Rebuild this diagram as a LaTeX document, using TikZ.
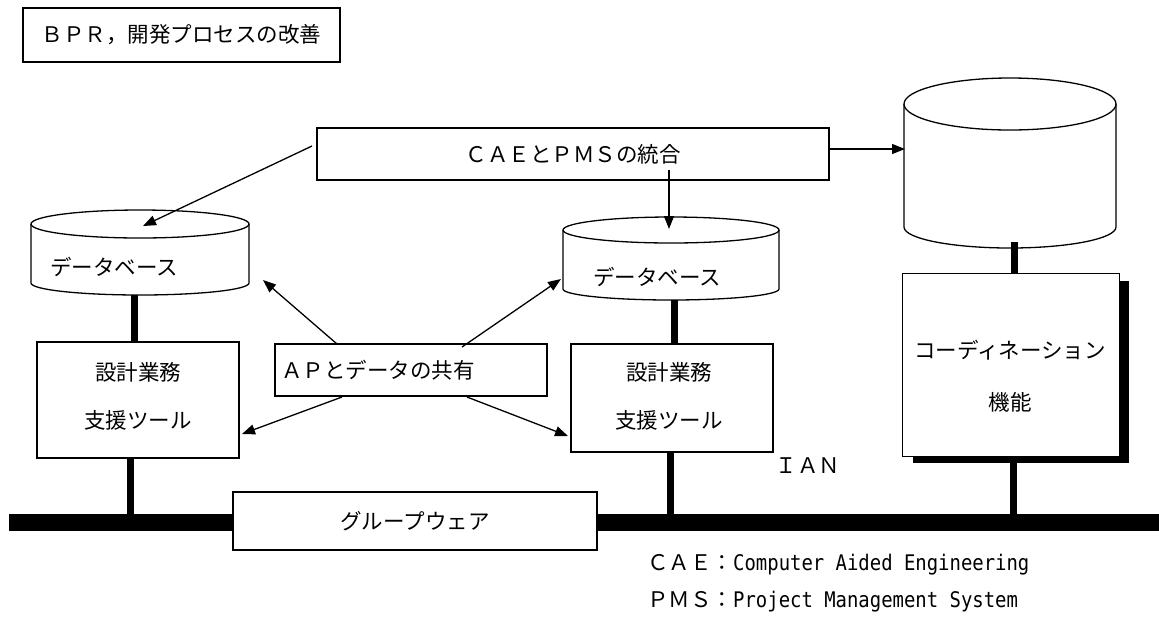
\documentclass[tikz,border=0pt]{standalone}
\usepackage{fontspec}
\setmainfont{Noto Sans CJK JP}
\newfontfamily\jpfont{Noto Sans CJK JP}
\newfontfamily\monofoot{DejaVu Sans Mono}[FakeStretch=0.88]
\usetikzlibrary{arrows.meta}
\begin{document}
\begin{tikzpicture}[x=1pt,y=-1pt,
  every node/.style={font=\jpfont\fontsize{21.5}{26}\selectfont, inner sep=0pt},
  box/.style={draw, line width=1.3pt, fill=white},
  conn/.style={line width=1.3pt, -{Triangle[length=13pt,width=10pt]}},
  lnk/.style={line width=7pt},
  busline/.style={line width=17pt},
  drum/.style={line width=1.3pt, fill=white}
]
\useasboundingbox (0,0) rectangle (1159,625);

% ---- LAN bus
\coordinate (busL) at (9,522.5);
\coordinate (busR) at (1159,522.5);
\draw[busline] (busL) -- (busR);

% ---- title
\node[box, line width=1.6pt, minimum width=317pt, minimum height=54pt] (title) at (181.5,35) {ＢＰＲ，開発プロセスの改善};

% ---- cylinders
\draw[drum] (31,224) -- (31,283) arc[start angle=180, end angle=360, x radius=109pt, y radius=12pt] -- (249,224);
\draw[drum] (140,224) ellipse[x radius=109pt, y radius=14pt];
\node[anchor=west] (db1t) at (50,267) {データベース};

\draw[drum] (563,230) -- (563,289) arc[start angle=180, end angle=360, x radius=108pt, y radius=11pt] -- (779,230);
\draw[drum] (671,230) ellipse[x radius=108pt, y radius=13pt];
\node (db2t) at (657,277) {データベース};

\draw[drum] (904,104) -- (904,227) arc[start angle=180, end angle=360, x radius=106pt, y radius=21pt] -- (1116,104);
\draw[drum] (1010,104) ellipse[x radius=106pt, y radius=26pt];

% ---- boxes
\node[box, minimum width=512pt, minimum height=52pt] (cae) at (573,154) {ＣＡＥとＰＭＳの統合};
\node[box, minimum width=272pt, minimum height=52pt, inner xsep=6pt, text width=260pt, align=left] (ap) at (411,370) {ＡＰとデータの共有};

\node[box, minimum width=202pt, minimum height=116pt] (tool1) at (138,400) {};
\node[align=center] (tool1t) at (138,396) {設計業務\\[22pt]支援ツール};
\node[box, minimum width=202pt, minimum height=108pt] (tool2) at (672,398) {};
\node[align=center] (tool2t) at (669,396) {設計業務\\[22pt]支援ツール};

\node[minimum width=216pt, minimum height=182pt] (coord) at (1011,365) {};
\fill ([xshift=10pt,yshift=-7pt]coord.north west) rectangle ([xshift=10pt,yshift=-7pt]coord.south east);
\draw[line width=1.3pt, fill=white] (coord.north west) rectangle (coord.south east);
\node[align=center] (coordt) at (1010,376) {コーディネーション\\[26pt]機能};

\node[box, minimum width=364pt, minimum height=58pt] (gw) at (415,521) {グループウェア};

% ---- thick links
\coordinate (db1b) at (134,295);
\coordinate (db2b) at (674,300);
\coordinate (cy3b) at (1014,242);
\coordinate (t1b) at (130,458);
\coordinate (t2b) at (670,452);
\coordinate (cob) at (1013,463);
\draw[lnk] (db1b) -- (db1b |- tool1.north);
\draw[lnk] (db2b) -- (db2b |- tool2.north);
\draw[lnk] (cy3b) -- (cy3b |- coord.north);
\draw[lnk] (t1b) -- (t1b |- 0,514);
\draw[lnk] (t2b) -- (t2b |- 0,514);
\draw[lnk] (cob) -- (cob |- 0,514);

% ---- arrows
\coordinate (caeA) at (312,146);
\coordinate (db1in) at (143,226);
\coordinate (caeB) at (669,170);
\coordinate (db2in) at (669,229);
\coordinate (caeC) at (829,149);
\coordinate (cy3in) at (905,149);
\draw[conn] (caeA) -- (db1in);
\draw[conn] (caeB) -- (db2in);
\draw[conn] (caeC) -- (cy3in);

\coordinate (apA) at (337,344);
\coordinate (db1r) at (263,280);
\coordinate (apB) at (462,347);
\coordinate (db2l) at (561,279);
\coordinate (apC) at (342,397);
\coordinate (t1r) at (242,434);
\coordinate (apD) at (467,397);
\coordinate (t2l) at (568,436);
\draw[conn] (apA) -- (db1r);
\draw[conn] (apB) -- (db2l);
\draw[conn] (apC) -- (t1r);
\draw[conn] (apD) -- (t2l);

% ---- labels
\node (lan) at (808,466) {ＩＡＮ};
\node[anchor=west] (foot1) at (647,565) {ＣＡＥ：{\monofoot Computer Aided Engineering}};
\node[anchor=west] (foot2) at (647,602) {ＰＭＳ：{\monofoot Project Management System}};
\end{tikzpicture}
\end{document}
